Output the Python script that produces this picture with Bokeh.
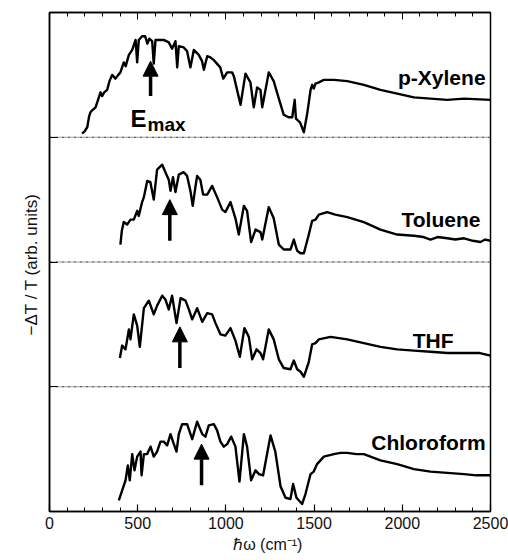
from bokeh.plotting import figure
from bokeh.models import (Range1d, LinearAxis, FixedTicker, Arrow, NormalHead,
                          CustomJSTickFormatter)
from bokeh.core.properties import value
from bokeh.embed import file_html
from bokeh.resources import INLINE

solvents = ["p-Xylene", "Toluene", "THF", "Chloroform"]
offsets = [3, 2, 1, 0]
emax = [573, 682, 739, 862]
x_ticks = [0, 500, 1000, 1500, 2000, 2500]

xylene_x = [185, 200, 214, 225, 232, 245, 261, 275, 289, 298, 310, 327, 340, 355, 374, 390, 402, 421, 432, 450,
            469, 488, 497, 506, 525, 542, 555, 566, 582, 591, 601, 620, 648, 676, 695, 714, 724, 733, 761, 780,
            799, 818, 846, 865, 875, 894, 912, 930, 968, 985, 1007, 1035, 1045, 1083, 1111, 1139, 1158, 1177,
            1196, 1206, 1243, 1271, 1300, 1328, 1355, 1376, 1390, 1397, 1420, 1442, 1461, 1480, 1489, 1498,
            1508, 1527, 1555, 1612, 1688, 1782, 1876, 1971, 2066, 2160, 2255, 2350, 2500]
xylene_y = [0.03, 0.05, 0.08, 0.17, 0.20, 0.22, 0.24, 0.30, 0.36, 0.33, 0.36, 0.38, 0.45, 0.50, 0.47, 0.50, 0.52,
            0.60, 0.57, 0.66, 0.70, 0.78, 0.60, 0.78, 0.81, 0.81, 0.75, 0.79, 0.77, 0.59, 0.78, 0.78, 0.78, 0.76,
            0.71, 0.77, 0.56, 0.73, 0.72, 0.69, 0.56, 0.70, 0.66, 0.61, 0.54, 0.65, 0.64, 0.62, 0.56, 0.47, 0.52,
            0.52, 0.49, 0.26, 0.51, 0.44, 0.24, 0.40, 0.38, 0.24, 0.52, 0.45, 0.31, 0.18, 0.16, 0.16, 0.30, 0.15,
            0.12, 0.04, 0.19, 0.38, 0.42, 0.39, 0.43, 0.44, 0.46, 0.46, 0.45, 0.42, 0.38, 0.35, 0.32, 0.31, 0.30,
            0.31, 0.30]

toluene_x = [402, 410, 421, 440, 459, 478, 497, 506, 525, 535, 554, 572, 591, 610, 639, 657, 676, 686, 700, 714,
             733, 761, 780, 799, 812, 827, 837, 855, 871, 894, 922, 950, 979, 997, 1026, 1054, 1073, 1102, 1120,
             1143, 1168, 1196, 1206, 1243, 1271, 1300, 1328, 1366, 1385, 1404, 1423, 1442, 1470, 1489, 1508,
             1527, 1574, 1620, 1688, 1782, 1876, 1971, 2066, 2120, 2160, 2200, 2255, 2300, 2350, 2400, 2443,
             2470, 2500]
toluene_y = [0.14, 0.25, 0.32, 0.30, 0.34, 0.34, 0.41, 0.37, 0.48, 0.52, 0.65, 0.64, 0.50, 0.74, 0.78, 0.72, 0.66,
             0.57, 0.68, 0.56, 0.70, 0.72, 0.69, 0.57, 0.45, 0.60, 0.69, 0.66, 0.54, 0.54, 0.61, 0.52, 0.42, 0.40,
             0.48, 0.35, 0.22, 0.45, 0.41, 0.16, 0.26, 0.24, 0.18, 0.44, 0.35, 0.14, 0.10, 0.10, 0.18, 0.09, 0.07,
             0.07, 0.22, 0.33, 0.34, 0.38, 0.40, 0.38, 0.36, 0.32, 0.26, 0.22, 0.21, 0.20, 0.18, 0.20, 0.19, 0.18,
             0.19, 0.17, 0.16, 0.18, 0.17]

thf_x = [399, 412, 431, 450, 459, 478, 497, 512, 535, 563, 591, 610, 639, 657, 676, 695, 720, 743, 771, 790, 809,
         837, 866, 894, 922, 941, 969, 997, 1026, 1054, 1079, 1105, 1130, 1149, 1174, 1196, 1211, 1243, 1271,
         1300, 1328, 1366, 1385, 1404, 1423, 1442, 1470, 1489, 1508, 1527, 1593, 1688, 1782, 1876, 1971, 2066,
         2160, 2255, 2350, 2440, 2500]
thf_y = [0.23, 0.33, 0.30, 0.46, 0.38, 0.58, 0.49, 0.32, 0.63, 0.69, 0.58, 0.65, 0.73, 0.70, 0.62, 0.73, 0.51,
         0.71, 0.69, 0.62, 0.54, 0.63, 0.52, 0.59, 0.58, 0.51, 0.42, 0.41, 0.47, 0.37, 0.24, 0.47, 0.40, 0.22,
         0.30, 0.27, 0.22, 0.46, 0.38, 0.22, 0.15, 0.14, 0.21, 0.14, 0.12, 0.08, 0.20, 0.34, 0.35, 0.38, 0.40,
         0.38, 0.35, 0.32, 0.30, 0.29, 0.28, 0.27, 0.27, 0.27, 0.25]

chloro_x = [393, 412, 431, 444, 455, 469, 482, 497, 516, 522, 535, 554, 573, 591, 610, 629, 648, 667, 686, 700,
            720, 733, 752, 780, 809, 837, 866, 884, 903, 932, 950, 969, 988, 1007, 1030, 1054, 1077, 1102, 1120,
            1143, 1168, 1187, 1211, 1253, 1280, 1310, 1338, 1366, 1381, 1400, 1432, 1451, 1480, 1498, 1517,
            1555, 1612, 1650, 1688, 1740, 1782, 1876, 1971, 2066, 2160, 2255, 2350, 2420, 2500]
chloro_y = [0.09, 0.17, 0.25, 0.37, 0.25, 0.46, 0.33, 0.44, 0.48, 0.29, 0.46, 0.46, 0.52, 0.44, 0.48, 0.56, 0.56,
            0.53, 0.62, 0.56, 0.48, 0.62, 0.70, 0.70, 0.58, 0.72, 0.62, 0.60, 0.69, 0.70, 0.65, 0.56, 0.52, 0.54,
            0.60, 0.52, 0.24, 0.62, 0.52, 0.25, 0.33, 0.30, 0.29, 0.61, 0.48, 0.20, 0.11, 0.10, 0.22, 0.11, 0.06,
            0.14, 0.30, 0.32, 0.38, 0.44, 0.46, 0.47, 0.47, 0.46, 0.46, 0.41, 0.38, 0.34, 0.32, 0.31, 0.30, 0.29,
            0.29]

traces = [(xylene_x, xylene_y), (toluene_x, toluene_y), (thf_x, thf_y), (chloro_x, chloro_y)]

FONT = "Liberation Sans"
blank = CustomJSTickFormatter(code="return ''")

p = figure(width=508, height=560, output_backend="svg", toolbar_location=None,
           x_range=Range1d(0, 2500), y_range=Range1d(0, 4),
           min_border_left=49, min_border_right=18, min_border_top=12, min_border_bottom=49,
           x_axis_label="ℏω  (cm⁻¹)", y_axis_label="−ΔT / T  (arb. units)")
p.grid.visible = False
p.outline_line_color = "black"
p.outline_line_width = 1.5
p.background_fill_color = "white"
p.border_fill_color = "white"

# x axis
xa = p.xaxis[0]
xa.ticker = FixedTicker(ticks=x_ticks, minor_ticks=list(range(0, 2501, 100)))
xa.major_tick_in = 7
xa.major_tick_out = 0
xa.minor_tick_in = 4
xa.minor_tick_out = 0
xa.axis_line_width = 1.5
xa.major_tick_line_width = 1.2
xa.major_label_text_font = FONT
xa.major_label_text_font_size = "16px"
xa.major_label_text_color = "#111111"
xa.major_label_standoff = 5
xa.axis_label_text_font = FONT
xa.axis_label_text_font_style = "normal"
xa.axis_label_text_font_size = "16px"
xa.axis_label_text_color = "#111111"
xa.axis_label_standoff = 4

# top axis
ta = LinearAxis(ticker=FixedTicker(ticks=x_ticks, minor_ticks=list(range(0, 2501, 100))),
                major_tick_in=7, major_tick_out=0, minor_tick_in=4, minor_tick_out=0,
                formatter=blank, axis_line_width=1.5)
p.add_layout(ta, "above")

# y axis
ya = p.yaxis[0]
ya.ticker = FixedTicker(ticks=[1, 2, 3], minor_ticks=[])
ya.major_tick_in = 8
ya.major_tick_out = 0
ya.formatter = blank
ya.axis_line_width = 1.5
ya.axis_label_text_font = FONT
ya.axis_label_text_font_style = "normal"
ya.axis_label_text_font_size = "17px"
ya.axis_label_text_color = "#111111"
ya.axis_label_standoff = 9

# dotted baselines
for off in offsets[:3]:
    p.line([0, 2500], [off, off], line_color="#333333", line_width=1, line_dash="3 1 1 1")

# traces
for (xs, ys), off in zip(traces, offsets):
    p.line(xs, [v + off for v in ys], line_color="black", line_width=2.4, line_join="round")

# solvent labels
lab_x = [2472, 2443, 2290, 2472]
lab_y = [3.48, 2.34, 1.37, 0.55]
p.text(x=lab_x, y=lab_y, text=solvents, text_font=value(FONT), text_font_style="bold",
       text_font_size="21px", text_align="right", text_baseline="alphabetic", text_color="black")

# E_max label
p.text(x=[459], y=[3.15], text=["E"], text_font=value(FONT), text_font_style="bold",
       text_font_size="24px", text_align="left", text_baseline="alphabetic")
p.text(x=[556], y=[3.10], text=["max"], text_font=value(FONT), text_font_style="bold",
       text_font_size="19px", text_align="left", text_baseline="alphabetic")

# arrows
tips = [0.61, 0.50, 0.48, 0.54]
tails = [0.33, 0.17, 0.15, 0.21]
for xe, off, tp, tl in zip(emax, offsets, tips, tails):
    p.add_layout(Arrow(end=NormalHead(size=15, fill_color="black", line_color="black"),
                       x_start=xe, y_start=off + tl, x_end=xe, y_end=off + tp,
                       line_width=3.5, line_color="black"))

open("out.html", "w").write(file_html(p, INLINE))
